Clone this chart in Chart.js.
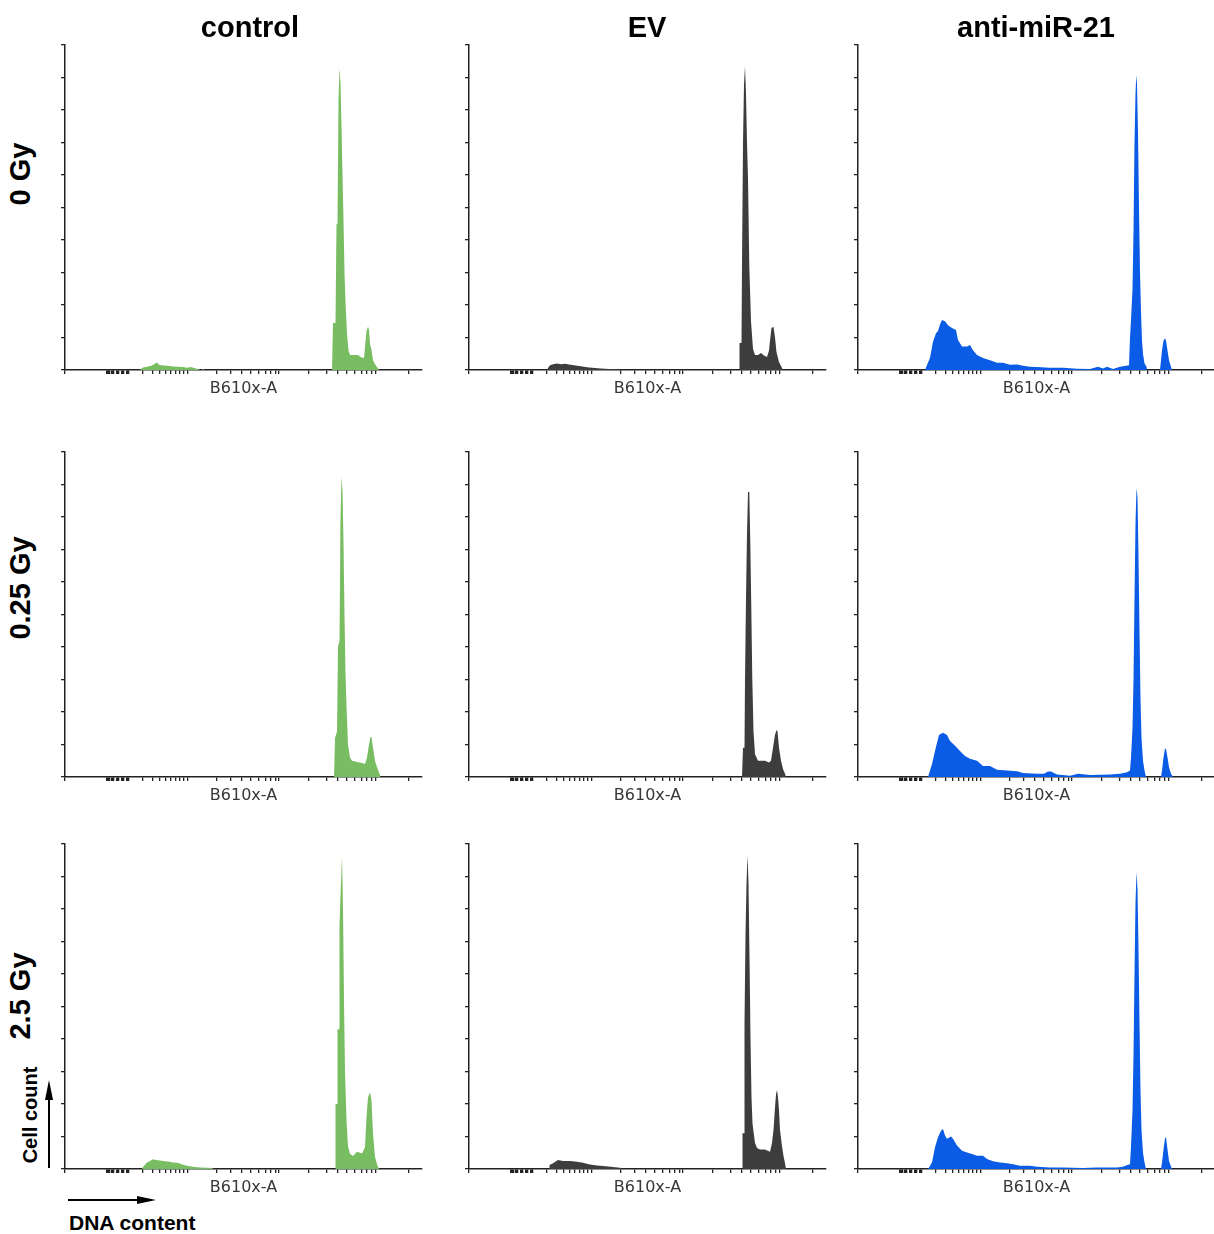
<!DOCTYPE html>
<html>
<head>
<meta charset="utf-8">
<script src="https://cdn.jsdelivr.net/npm/chart.js@4.4.1/dist/chart.umd.min.js"></script>
<style>
  html, body { margin: 0; padding: 0; background: #fff; }
  #fig { position: relative; width: 1214px; height: 1234px; overflow: hidden;
         font-family: "Liberation Sans", Arial, sans-serif; }
  .panel { position: absolute; }
  .lbl { position: absolute; font-weight: bold; color: #000; white-space: nowrap; line-height: 1; }
  .col { font-size: 29px; transform: translate(-50%, -50%); }
  .row { font-size: 29px; transform: translate(-50%, -50%) rotate(-90deg); }
  .note { font-size: 20px; }
  svg { position: absolute; left: 0; top: 0; }
</style>
</head>
<body>
<div id="fig"></div>
<script>
/* ---------- data ---------- */
const columns = ["control", "EV", "anti-miR-21"];
const doses = ["0 Gy", "0.25 Gy", "2.5 Gy"];
const xAxisLabel = "B610x-A";
const yAxisNote = "Cell count";
const xAxisNote = "DNA content";

// x tick positions in channel units (logicle-style axis, no labels)
const xTicks = [0, 42, 43, 44, 45, 47, 48, 49, 52, 53, 54, 57, 58, 59, 62, 63, 64,
  78, 88, 95, 101, 106, 111, 115, 119, 123,
  152, 166, 177, 186, 194, 201, 206, 211, 214,
  244, 262, 273, 282, 290, 297, 302, 307, 311, 344];
const xMax = 357;
const yMax = 100;   // % of histogram max
const yStep = 10;

// histograms: [channel, % of max]
const control0 = [[75,0],[76,0.4],[78,0.8],[82,1],[86,1.3],[89,1.8],[92,2.3],[94,1.6],[98,1.4],[103,1.3],
  [108,1.1],[113,1],[118,0.9],[122,0.7],[126,0.9],[129,0.6],[133,0.3],[135,0],[137,0],[138,0.4],[139,0],
  [267,0],[268,14.5],[270.5,14.5],[271.5,45],[272.5,45],[273.5,83],[274.5,92.9],[275.5,88],[276.5,75],
  [277.5,60],[278.5,46],[279.5,30],[280.5,21],[282,11],[283.5,6],[285,4.6],[293,4.6],[296,3.9],[299,3.7],
  [300,7],[301.5,12],[303,13.3],[304,12.5],[305,8],[306.5,6.2],[308,3],[310,1.8],[313,0.5],[314,0]];
const ev0 = [[78,0],[79,0.6],[81,1.5],[84,1.8],[88,2],[92,1.8],[96,1.9],[100,1.7],[105,1.5],[110,1.2],
  [115,1],[120,0.8],[126,0.6],[132,0.5],[140,0.3],[150,0.2],[152,0],
  [270,0],[270.5,8.3],[272.5,8.3],[273,33],[274,70],[275,88],[276,93.5],[277,85],[278,70],[279,59],
  [280.3,32],[282,15],[284,6.5],[286,4.6],[289,4.6],[292,5.2],[295,4.5],[298,4],[300,6],[301,9],
  [302.5,13],[304.5,13.2],[306,10],[307.5,5.5],[310,2.5],[312,1.2],[314,0]];
const anti0 = [[67,0],[68,0.8],[72,3.8],[75,8.7],[78,11.3],[80,12],[82,14],[84,15.4],[87,15],[90,13.8],
  [94,12.9],[98,12.3],[100,9.2],[104,7.2],[109,7.2],[112,7.7],[115,6.1],[119,4.6],[125,3.7],[132,3],
  [139,2.2],[145,2.2],[152,1.6],[159,1.7],[165,1.3],[172,1],[179,0.9],[192,0.7],[205,0.7],[219,0.4],
  [232,0.3],[240,1],[245,0.5],[249,1],[255,0.3],[262,1],[268,1.3],[271,1.5],[272,10],[273,15.4],
  [274.5,25],[275.5,42.5],[276.5,70],[277.5,85],[278.3,90.8],[279,88],[280,73],[281,50],[282,30],
  [283,18],[284,9],[285,5],[286.5,2],[288.5,1],[289,0],
  [302,0],[303,3],[304,6],[305.5,9],[307,9.8],[308,9],[309.5,6],[311,3],[313,1],[314,0]];

const control025 = [[269,0],[270,12],[272,14],[273,40],[274.5,42],[275.5,80],[276.5,92.3],[277.5,88],
  [278.5,72],[279.5,50],[280.5,32],[281.5,22],[283,10],[285,6],[287,5],[292,4.6],[297,4.3],[300,4],
  [302,6],[304,10],[305.5,12.3],[306.5,12.3],[308,9],[310,5],[312,3],[314,1.5],[315.5,0]];
const ev025 = [[273,0],[274,9],[275.5,9],[276,30],[277,55],[278,75],[279,87.7],[280.3,87.7],[281.3,72],
  [282.3,52],[283.3,30],[284.5,14],[286,7],[289,5],[296,5],[300,4.5],[302,5],[304,9],[306,13],[307.5,14.5],
  [308.5,14],[310,9],[312,5],[314,2.5],[316,1],[317,0]];
const anti025 = [[70,0],[71,1],[74,4],[78,9.3],[81,12.9],[85,13.6],[89,12.9],[92,11.1],[97,9.6],[102,8],
  [107,6.5],[112,5.6],[119,5],[125,3.4],[132,3.4],[139,2.2],[149,2],[159,1.8],[165,1.2],[179,1],[186,1],
  [190,1.7],[193,1.7],[199,0.8],[212,0.4],[220,1],[232,0.6],[252,0.8],[262,1],[269,1.5],[272,2],[273,6],
  [274.5,15],[275.5,30],[276.5,55],[277.5,78],[278.5,88.9],[279.5,86],[280.5,68],[281.5,45],[282.5,24],
  [283.5,12],[285,5],[286.5,2],[288,0],
  [303,0],[304,2],[305.5,6],[307,8.8],[308,8.6],[309.5,6],[311,3],[313,1],[315,0]];

const control25 = [[77,0],[78,0.6],[82,2],[85,2.5],[88,3],[91,2.8],[95,2.6],[98,2.5],[102,2.3],[105,2.2],
  [108,2],[112,1.9],[115,1.7],[118,1.3],[122,1],[128,0.7],[135,0.5],[142,0.4],[147,0.3],[148.5,0],
  [270,0],[270.5,20],[272,20],[272.5,43],[274,43],[274.5,75],[276,88],[277,96.3],[278,80],[279,52],
  [280,30],[281.5,15],[283,7],[285,4.7],[288,4],[292,5.3],[297,4.8],[300,6.7],[301.5,16],[303,22],
  [305,23.7],[306.5,21],[308,11],[310,3.8],[312,1.5],[314,0]];
const ev25 = [[80,0],[80.5,1.2],[84,1.8],[89,2.8],[94,2.5],[101,2.5],[108,2.2],[114,1.9],[121,1.4],
  [128,1.1],[134,0.9],[144,0.6],[151,0.4],[154,0],
  [273,0],[273.5,11],[275,11],[275.5,45],[276.5,72],[277.5,88],[278.5,96.6],[279.5,88],[280.5,65],
  [281.5,40],[282.5,22],[283.5,14],[284.5,11.5],[286,8],[288,6.5],[291,6],[296,6],[301,5.3],[303,8],
  [304.5,12],[306,19],[307,23],[308,24.3],[309,22],[310,18],[311,12],[313,7],[314.5,4],[316,1.8],[317,0]];
const anti25 = [[70,0],[71,0.5],[74,2],[77,6.7],[80,9.8],[83,11.8],[85,12.3],[87,10.3],[89,9.3],[93,10],
  [95,9.3],[99,7.2],[104,5.6],[109,5.1],[114,4.6],[119,4.1],[125,4.1],[129,3.1],[135,2.4],[142,2],
  [149,1.8],[155,1.5],[162,1],[172,1],[179,0.7],[192,0.5],[205,0.5],[225,0.3],[239,0.5],[259,0.5],
  [265,0.7],[270,1.3],[272,1.5],[273,7],[274.5,18],[275.5,35],[276.5,60],[277.5,82],[278.5,91.4],
  [279.5,86],[280.5,68],[281.5,45],[282.5,24],[283.5,12],[285,5],[286.5,2],[288,0],
  [303,0],[304,2],[305.5,6],[307,9.5],[308,9.8],[309.5,6],[311,2.5],[313,0.8],[314,0]];

const series = [
  [control0, ev0, anti0],
  [control025, ev025, anti025],
  [control25, ev25, anti25],
];

/* ---------- layout / style ---------- */
const COLORS = ["#79bd62", "#3d3d3d", "#0a5be6"];
const COL_X = [65, 469, 858];        // y-axis position of each column
const ROW_Y = [45, 452, 844];        // top of each plot area
const TITLE_X = [250, 647, 1036];
const ROW_LBL_Y = [174, 588, 996];
const PLOT_W = 357, PLOT_H = 325, Y_AXIS_W = 8, X_AXIS_H = 30, PAD_T = 4, PAD_R = 4;
const AXIS = "#222";

const fig = document.getElementById("fig");

function addLabel(text, cls, x, y, extra) {
  const d = document.createElement("div");
  d.className = "lbl " + cls;
  d.textContent = text;
  d.style.left = x + "px";
  d.style.top = y + "px";
  if (extra) Object.assign(d.style, extra);
  fig.appendChild(d);
}

function panel(r, c) {
  const wrap = document.createElement("div");
  wrap.className = "panel";
  const w = Y_AXIS_W + PLOT_W + PAD_R, h = PAD_T + PLOT_H + X_AXIS_H;
  wrap.style.left = (COL_X[c] - Y_AXIS_W) + "px";
  wrap.style.top = (ROW_Y[r] - PAD_T) + "px";
  const cv = document.createElement("canvas");
  cv.width = w; cv.height = h;
  wrap.appendChild(cv);
  fig.appendChild(wrap);

  const tickGrid = { drawOnChartArea: false, drawTicks: true, tickLength: 4, color: AXIS, lineWidth: 1.3 };
  return new Chart(cv, {
    type: "line",
    data: {
      datasets: [{
        data: series[r][c],
        fill: "origin",
        backgroundColor: COLORS[c],
        borderWidth: 0,
        pointRadius: 0,
        tension: 0,
      }],
    },
    options: {
      responsive: false, animation: false,
      layout: { padding: { top: PAD_T, right: PAD_R, left: 0, bottom: 0 } },
      plugins: { legend: { display: false }, tooltip: { enabled: false } },
      scales: {
        x: {
          type: "linear", min: 0, max: xMax,
          afterBuildTicks: (s) => { s.ticks = xTicks.map((v) => ({ value: v })); },
          afterFit: (s) => { s.height = X_AXIS_H; },
          ticks: { display: false, autoSkip: false },
          grid: tickGrid,
          border: { color: AXIS, width: 1.5 },
          title: {
            display: true, text: xAxisLabel, color: "#383838",
            font: { family: "DejaVu Sans", size: 16 },
            padding: { top: 0, bottom: 2 },
          },
        },
        y: {
          min: 0, max: yMax,
          ticks: { display: false, stepSize: yStep },
          afterFit: (s) => { s.width = Y_AXIS_W; },
          grid: tickGrid,
          border: { color: AXIS, width: 1.5 },
        },
      },
    },
  });
}

for (let r = 0; r < 3; r++) for (let c = 0; c < 3; c++) panel(r, c);

columns.forEach((t, c) => addLabel(t, "col", TITLE_X[c], 27));
doses.forEach((t, r) => addLabel(t, "row", 20, ROW_LBL_Y[r]));
addLabel(yAxisNote, "note", 30, 1115, { transform: "translate(-50%, -50%) rotate(-90deg)" });
addLabel(xAxisNote, "note", 69, 1222, { transform: "translateY(-50%)", fontSize: "21px" });

// arrows for the axis notes
fig.insertAdjacentHTML("beforeend", `
<svg width="1214" height="1234">
  <line x1="49" y1="1168" x2="49" y2="1098" stroke="#000" stroke-width="2"/>
  <polygon points="49,1080 45,1100 53,1100" fill="#000"/>
  <line x1="68" y1="1200" x2="139" y2="1200" stroke="#000" stroke-width="2"/>
  <polygon points="156,1200 137,1196 137,1204" fill="#000"/>
</svg>`);
</script>
</body>
</html>
